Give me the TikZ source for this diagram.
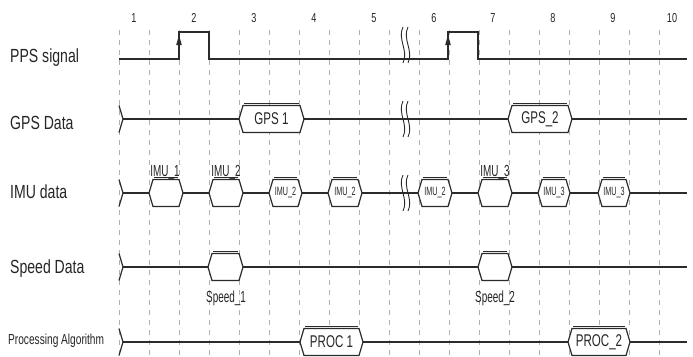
\documentclass[tikz,border=0pt]{standalone}
\usepackage{fontspec}
\setmainfont{Liberation Sans}
\definecolor{sigc}{HTML}{2B2B2B}
\definecolor{txtc}{HTML}{262626}
\definecolor{gridc}{HTML}{B0B0B0}
\newcommand\sqz[2]{\scalebox{#1}[1]{#2}}
\tikzset{
  sig/.style={draw=sigc, line width=1.2pt, line join=miter},
  gridline/.style={draw=gridc, line width=0.6pt, dash pattern=on 5pt off 5pt},
  rowlbl/.style={text=txtc, font=\fontsize{19}{19}\selectfont, anchor=west, inner sep=0pt},
  proclbl/.style={text=txtc, font=\fontsize{14.5}{14.5}\selectfont, anchor=west, inner sep=0pt},
  numlbl/.style={text=txtc, font=\fontsize{13}{13}\selectfont, inner sep=0pt},
  boxtxt/.style={text=txtc, font=\fontsize{17}{17}\selectfont, inner sep=0pt},
  smalltxt/.style={text=txtc, font=\fontsize{12}{12}\selectfont, inner sep=0pt},
  outtxt/.style={text=txtc, font=\fontsize{16}{16}\selectfont, inner sep=0pt},
  brk/.style={draw=sigc, line width=0.9pt}
}
% hexagon: xl xr centre
\newcommand\tdhex[3]{%
  \filldraw[sig, fill=white] (#1,#3) -- ({#1+4},{#3-13.5}) -- ({#2-4},{#3-13.5}) -- (#2,#3)
    -- ({#2-4},{#3+13.5}) -- ({#1+4},{#3+13.5}) -- cycle;
  \draw[draw=sigc, line width=0.6pt] ({#1+5},{#3-15.3}) -- ({#2-5},{#3-15.3});
}
% break mark
\newcommand\tdbrk[2]{%
  \draw[brk] (#1,{#2-18}) .. controls ({#1-6},{#2-6}) and ({#1+6},{#2+6}) .. (#1,{#2+18});
  \draw[brk] ({#1+5},{#2-18}) .. controls ({#1-1},{#2-6}) and ({#1+11},{#2+6}) .. ({#1+5},{#2+18});
}
% start chevron
\newcommand\tdstart[1]{%
  \draw[sig] (119,{#1-13.5}) -- (123,#1) -- (119,{#1+13.5});
}
\begin{document}
\begin{tikzpicture}[x=1pt, y=-1pt]
\useasboundingbox (0,0) rectangle (693,356);
\clip (0,0) rectangle (693,356);
\fill[white] (0,0) rectangle (693,356);

% grid
\foreach \i in {0,...,18} \draw[gridline] ({119+30*\i},30) -- ({119+30*\i},356);

% numbers
\foreach \n/\xx in {1/134,2/194,3/254,4/314,5/374,6/434,7/493,8/553,9/613,10/672}
  \node[numlbl] (num\n) at (\xx,18) {\sqz{0.7}{\n}};

% row labels
\node[rowlbl] (lpps) at (10,58) {\sqz{0.74}{PPS signal}};
\node[rowlbl] (lgps) at (10,123) {\sqz{0.74}{GPS Data}};
\node[rowlbl] (limu) at (10,192) {\sqz{0.74}{IMU data}};
\node[rowlbl] (lspd) at (10,269) {\sqz{0.74}{Speed Data}};
\node[proclbl] (lproc) at (8,341) {\sqz{0.7}{Processing Algorithm}};

% PPS signal
\draw[sig] (119,59) -- (179,59) -- (179,32) -- (209,32) -- (209,59) -- (448,59)
  -- (448,32) -- (478,32) -- (478,59) -- (687,59);
\fill[sigc] (179,35) -- (176.2,45) -- (181.8,45) -- cycle;
\fill[sigc] (448,35) -- (445.2,45) -- (450.8,45) -- cycle;
\tdbrk{403}{45}

% GPS data
\tdstart{119}
\draw[sig] (123,119) -- (239,119) (304,119) -- (508,119) (572,119) -- (687,119);
\tdhex{239}{304}{119}
\node[boxtxt] (gps1) at (271.5,119) {\sqz{0.68}{GPS 1}};
\tdhex{508}{572}{119}
\node[boxtxt] (gps2) at (540,119) {\sqz{0.68}{GPS\_2}};
\tdbrk{403}{119}

% IMU data
\tdstart{193}
\draw[sig] (123,193) -- (149,193) (183,193) -- (209,193) (243,193) -- (269,193)
  (302,193) -- (328,193) (362,193) -- (418,193) (452,193) -- (478,193)
  (512,193) -- (538,193) (570,193) -- (598,193) (630,193) -- (687,193);
\tdhex{149}{183}{193}
\node[outtxt, anchor=base] (imu1) at (165,176) {\sqz{0.62}{IMU\_1}};
\tdhex{209}{243}{193}
\node[outtxt, anchor=base] (imu2a) at (226,176) {\sqz{0.62}{IMU\_2}};
\tdhex{269}{302}{193}
\node[smalltxt] (imu2b) at (285.5,193) {\sqz{0.6}{IMU\_2}};
\tdhex{328}{362}{193}
\node[smalltxt] (imu2c) at (345,193) {\sqz{0.6}{IMU\_2}};
\tdhex{418}{452}{193}
\node[smalltxt] (imu2d) at (435,193) {\sqz{0.6}{IMU\_2}};
\tdhex{478}{512}{193}
\node[outtxt, anchor=base] (imu3a) at (495,176) {\sqz{0.62}{IMU\_3}};
\tdhex{538}{570}{193}
\node[smalltxt] (imu3b) at (554,193) {\sqz{0.6}{IMU\_3}};
\tdhex{598}{630}{193}
\node[smalltxt] (imu3c) at (614,193) {\sqz{0.6}{IMU\_3}};
\tdbrk{403}{193}

% Speed data
\tdstart{267}
\draw[sig] (123,267) -- (208,267) (243,267) -- (478,267) (512,267) -- (687,267);
\tdhex{208}{243}{267}
\node[outtxt, anchor=base] (spd1) at (226,302) {\sqz{0.62}{Speed\_1}};
\tdhex{478}{512}{267}
\node[outtxt, anchor=base] (spd2) at (495,302) {\sqz{0.62}{Speed\_2}};

% Processing algorithm
\tdstart{342}
\draw[sig] (123,342) -- (300,342) (363,342) -- (568,342) (630,342) -- (687,342);
\tdhex{300}{363}{342}
\node[boxtxt] (proc1) at (331.5,342) {\sqz{0.68}{PROC 1}};
\tdhex{568}{630}{342}
\node[boxtxt] (proc2) at (599,342) {\sqz{0.68}{PROC\_2}};
\end{tikzpicture}
\end{document}
